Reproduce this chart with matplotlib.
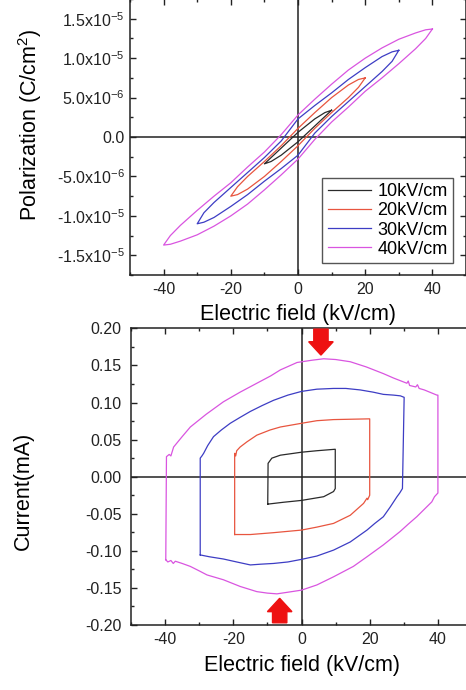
import matplotlib
matplotlib.use('Agg')
import matplotlib.pyplot as plt
from matplotlib.ticker import MultipleLocator, FixedLocator, FixedFormatter
import numpy as np

plt.rcParams['font.family'] = ['Liberation Sans', 'DejaVu Sans']
plt.rcParams['mathtext.fontset'] = 'custom'
plt.rcParams['mathtext.rm'] = 'Liberation Sans'
plt.rcParams['mathtext.default'] = 'regular'
plt.rcParams['axes.unicode_minus'] = False

# ---- P-E loops (E in kV/cm, P in 1e-6 C/cm^2), upper branch then lower branch ----
labels = ['10kV/cm', '20kV/cm', '30kV/cm', '40kV/cm']
colors = ['#2a2a2a', '#e8553f', '#3d3dc4', '#d955e0']

pe10_up_E = [10, 8, 5, 0, -5, -8, -10]
pe10_up_P = [3.4, 3.1, 2.3, 0.6, -1.4, -2.6, -3.4]
pe10_lo_E = [-10, -8, -5, 0, 5, 8, 10]
pe10_lo_P = [-3.4, -3.1, -2.3, -0.6, 1.4, 2.6, 3.4]

pe20_up_E = [20, 18, 15, 10, 5, 0, -5, -10, -15, -18, -20]
pe20_up_P = [7.5, 7.3, 6.6, 5.0, 3.1, 1.1, -1.1, -3.1, -5.0, -6.3, -7.5]
pe20_lo_E = [-20, -18, -15, -10, -5, 0, 5, 10, 15, 18, 20]
pe20_lo_P = [-7.5, -7.3, -6.6, -5.0, -3.1, -1.1, 1.1, 3.1, 5.0, 6.3, 7.5]

pe30_up_E = [30, 28, 25, 20, 15, 10, 5, 0, -5, -10, -15, -20, -25, -28, -30]
pe30_up_P = [11.0, 10.8, 10.2, 8.8, 7.3, 5.6, 4.0, 2.3, -0.5, -2.6, -4.5, -6.4, -8.3, -9.6, -11.0]
pe30_lo_E = [-30, -28, -25, -20, -15, -10, -5, 0, 5, 10, 15, 20, 25, 28, 30]
pe30_lo_P = [-11.0, -10.8, -10.2, -8.8, -7.3, -5.6, -4.0, -2.3, 0.5, 2.6, 4.5, 6.4, 8.3, 9.6, 11.0]

pe40_up_E = [40, 38, 35, 30, 25, 20, 15, 10, 5, 0, -5, -10, -15, -20, -25, -30, -35, -38, -40]
pe40_up_P = [13.7, 13.6, 13.2, 12.4, 11.3, 10.0, 8.5, 6.7, 4.8, 2.8, 0.3, -1.9, -3.8, -5.8, -7.5, -9.3, -11.2, -12.5, -13.7]
pe40_lo_E = [-40, -38, -35, -30, -25, -20, -15, -10, -5, 0, 5, 10, 15, 20, 25, 30, 35, 38, 40]
pe40_lo_P = [-13.7, -13.6, -13.2, -12.4, -11.3, -10.0, -8.5, -6.7, -4.8, -2.8, -0.3, 1.9, 3.8, 5.8, 7.5, 9.3, 11.2, 12.5, 13.7]

p_ticks = [-15, -10, -5, 0, 5, 10, 15]
p_ticklabels = ['-1.5x10$^{-5}$', '-1.0x10$^{-5}$', '-5.0x10$^{-6}$', '0.0',
                '5.0x10$^{-6}$', '1.0x10$^{-5}$', '1.5x10$^{-5}$']

# ---- I-E loops (E in kV/cm, I in mA), top branch then bottom branch ----
ie10_top_E = [-9.9, -9.8, -8.7, -6.2, -2.3, 0, 4.5, 9.9]
ie10_top_I = [-0.037, 0.018, 0.025, 0.029, 0.0315, 0.033, 0.035, 0.037]
ie10_bot_E = [9.9, 9.9, 9.4, 6.5, 2.6, 0, -5.3, -9.9]
ie10_bot_I = [0.037, -0.016, -0.020, -0.027, -0.030, -0.032, -0.0345, -0.037]

ie20_top_E = [-19.6, -19.6, -19.3, -19.0, -18.0, -16.0, -13.1, -9.2, -6.2, 0, 4.5, 9.4, 20.0]
ie20_top_I = [-0.078, 0.0315, 0.028, 0.035, 0.040, 0.047, 0.056, 0.063, 0.067, 0.072, 0.0755, 0.077, 0.078]
ie20_bot_E = [20.0, 20.0, 19.4, 19.2, 18.2, 14.3, 9.4, 4.5, 0, -8.2, -15.0, -19.6]
ie20_bot_I = [0.078, -0.025, -0.031, -0.029, -0.036, -0.052, -0.063, -0.068, -0.072, -0.0755, -0.078, -0.078]

ie30_top_E = [-29.7, -29.7, -29.2, -28.7, -27.5, -25.8, -23.5, -20.9, -18.0, -15.0, -11.5, -8.2,
              -4.0, 0, 4.5, 9.4, 13.0, 17.2, 21.0, 24.0, 27.0, 29.0, 30.1]
ie30_top_I = [-0.1055, 0.025, 0.028, 0.0315, 0.042, 0.054, 0.063, 0.072, 0.080, 0.088, 0.096, 0.103,
              0.110, 0.115, 0.118, 0.119, 0.119, 0.117, 0.114, 0.111, 0.110, 0.109, 0.107]
ie30_bot_E = [30.1, 29.6, 28.8, 28.0, 26.0, 24.0, 21.5, 19.2, 14.3, 9.4, 4.5, 0, -4.0, -8.2,
              -12.0, -15.0, -19.0, -22.9, -27.0, -29.7]
ie30_bot_I = [0.107, -0.016, -0.022, -0.027, -0.041, -0.054, -0.063, -0.072, -0.088, -0.099, -0.107,
              -0.1115, -0.115, -0.117, -0.118, -0.119, -0.115, -0.111, -0.108, -0.1055]

ie40_top_E = [-39.8, -39.6, -38.8, -38.3, -37.5, -35.0, -32.6, -28.0, -22.9, -18.0, -13.1, -9.0,
              -6.2, -1.3, 3.0, 6.5, 10.0, 14.3, 19.0, 24.0, 27.0, 30.9, 31.3, 31.7, 33.5, 34.0,
              34.5, 36.0, 39.7, 40.0]
ie40_top_I = [-0.112, 0.027, 0.030, 0.028, 0.040, 0.054, 0.067, 0.084, 0.101, 0.114, 0.126, 0.136,
              0.144, 0.154, 0.157, 0.159, 0.158, 0.155, 0.148, 0.139, 0.133, 0.126, 0.129, 0.123,
              0.121, 0.124, 0.119, 0.117, 0.110, 0.110]
ie40_bot_E = [40.0, 40.0, 39.0, 38.2, 36.0, 33.8, 31.3, 28.9, 24.0, 19.2, 15.2, 9.4, 4.5, 0,
              -4.3, -7.2, -10.0, -13.1, -18.0, -22.9, -27.7, -30.0, -32.6, -35.0, -37.0, -37.6,
              -38.3, -39.2, -39.8]
ie40_bot_I = [0.110, -0.022, -0.027, -0.034, -0.044, -0.054, -0.064, -0.074, -0.092, -0.108, -0.121,
              -0.135, -0.146, -0.153, -0.156, -0.158, -0.157, -0.155, -0.148, -0.139, -0.1325,
              -0.127, -0.121, -0.117, -0.114, -0.117, -0.113, -0.115, -0.112]

i_ticks = [-0.20, -0.15, -0.10, -0.05, 0.00, 0.05, 0.10, 0.15, 0.20]

# red arrows on the 40 kV/cm current loop
arrow_E = [5.7, -6.4]
arrow_tail = [0.199, -0.197]
arrow_tip = [0.164, -0.164]

pe_loops = [(pe10_up_E, pe10_up_P, pe10_lo_E, pe10_lo_P),
            (pe20_up_E, pe20_up_P, pe20_lo_E, pe20_lo_P),
            (pe30_up_E, pe30_up_P, pe30_lo_E, pe30_lo_P),
            (pe40_up_E, pe40_up_P, pe40_lo_E, pe40_lo_P)]
ie_loops = [(ie10_top_E, ie10_top_I, ie10_bot_E, ie10_bot_I),
            (ie20_top_E, ie20_top_I, ie20_bot_E, ie20_bot_I),
            (ie30_top_E, ie30_top_I, ie30_bot_E, ie30_bot_I),
            (ie40_top_E, ie40_top_I, ie40_bot_E, ie40_bot_I)]

fig = plt.figure(figsize=(4.66, 6.9), dpi=100)
ax1 = fig.add_axes([0.279, 0.6014, 0.721, 0.400])
ax2 = fig.add_axes([0.2811, 0.0942, 0.7318, 0.4299])

tick_fs = 11.5
label_fs = 15.5


def style_axes(ax, pad_y):
    for s in ax.spines.values():
        s.set_linewidth(1.1)
        s.set_color('#222222')
    ax.tick_params(which='both', direction='in', top=True, right=True, colors='#222222',
                   labelsize=tick_fs, width=1.0)
    ax.tick_params(which='major', length=4)
    ax.tick_params(which='minor', length=2.5)
    ax.tick_params(axis='y', pad=pad_y)
    ax.tick_params(axis='x', pad=5)
    ax.axhline(0, color='#222222', lw=1.1, zorder=1)
    ax.axvline(0, color='#222222', lw=1.1, zorder=1)


# top panel
for (ue, up, le, lp), c, lab in zip(pe_loops, colors, labels):
    ax1.plot(np.array(ue + le), np.array(up + lp) * 1e-6, color=c, lw=0.9, label=lab, zorder=3)
ax1.set_xlim(-50, 50)
ax1.set_ylim(-1.75e-5, 1.75e-5)
ax1.xaxis.set_major_locator(MultipleLocator(20))
ax1.xaxis.set_minor_locator(MultipleLocator(10))
ax1.yaxis.set_major_locator(FixedLocator([v * 1e-6 for v in p_ticks]))
ax1.yaxis.set_major_formatter(FixedFormatter(p_ticklabels))
ax1.yaxis.set_minor_locator(MultipleLocator(2.5e-6))
style_axes(ax1, 4)
ax1.set_xlabel('Electric field (kV/cm)', fontsize=label_fs)
ax1.set_ylabel('Polarization (C/cm$^2$)', fontsize=label_fs)
ax1.xaxis.set_label_coords(0.5, -0.105)
ax1.yaxis.set_label_coords(-0.255, 0.545)
leg = ax1.legend(loc='lower right', bbox_to_anchor=(0.962, 0.043), borderaxespad=0,
                 fontsize=13, handlelength=2.4, labelspacing=0.12, handletextpad=0.35,
                 borderpad=0.3, fancybox=False, framealpha=1)
leg.get_frame().set_edgecolor('#555555')
leg.get_frame().set_linewidth(1.0)

# bottom panel
for (te, ti, be, bi), c in zip(ie_loops, colors):
    ax2.plot(te + be, ti + bi, color=c, lw=0.9, zorder=3)
ax2.set_xlim(-50, 50)
ax2.set_ylim(-0.2, 0.2)
ax2.xaxis.set_major_locator(MultipleLocator(20))
ax2.xaxis.set_minor_locator(MultipleLocator(10))
ax2.yaxis.set_major_locator(FixedLocator(i_ticks))
ax2.yaxis.set_major_formatter(FixedFormatter(['%.2f' % v for v in i_ticks]))
ax2.yaxis.set_minor_locator(MultipleLocator(0.025))
style_axes(ax2, 7)
ax2.set_xlabel('Electric field (kV/cm)', fontsize=label_fs)
ax2.set_ylabel('Current(mA)', fontsize=label_fs)
ax2.xaxis.set_label_coords(0.5, -0.1)
ax2.yaxis.set_label_coords(-0.285, 0.452)

for x, t0, t1 in zip(arrow_E, arrow_tail, arrow_tip):
    ax2.arrow(x, t0, 0, t1 - t0, width=4.2, head_width=7.2, head_length=0.018,
              length_includes_head=True, color='#ee1111', zorder=5, clip_on=False)

fig.savefig('out.png', dpi=100)
